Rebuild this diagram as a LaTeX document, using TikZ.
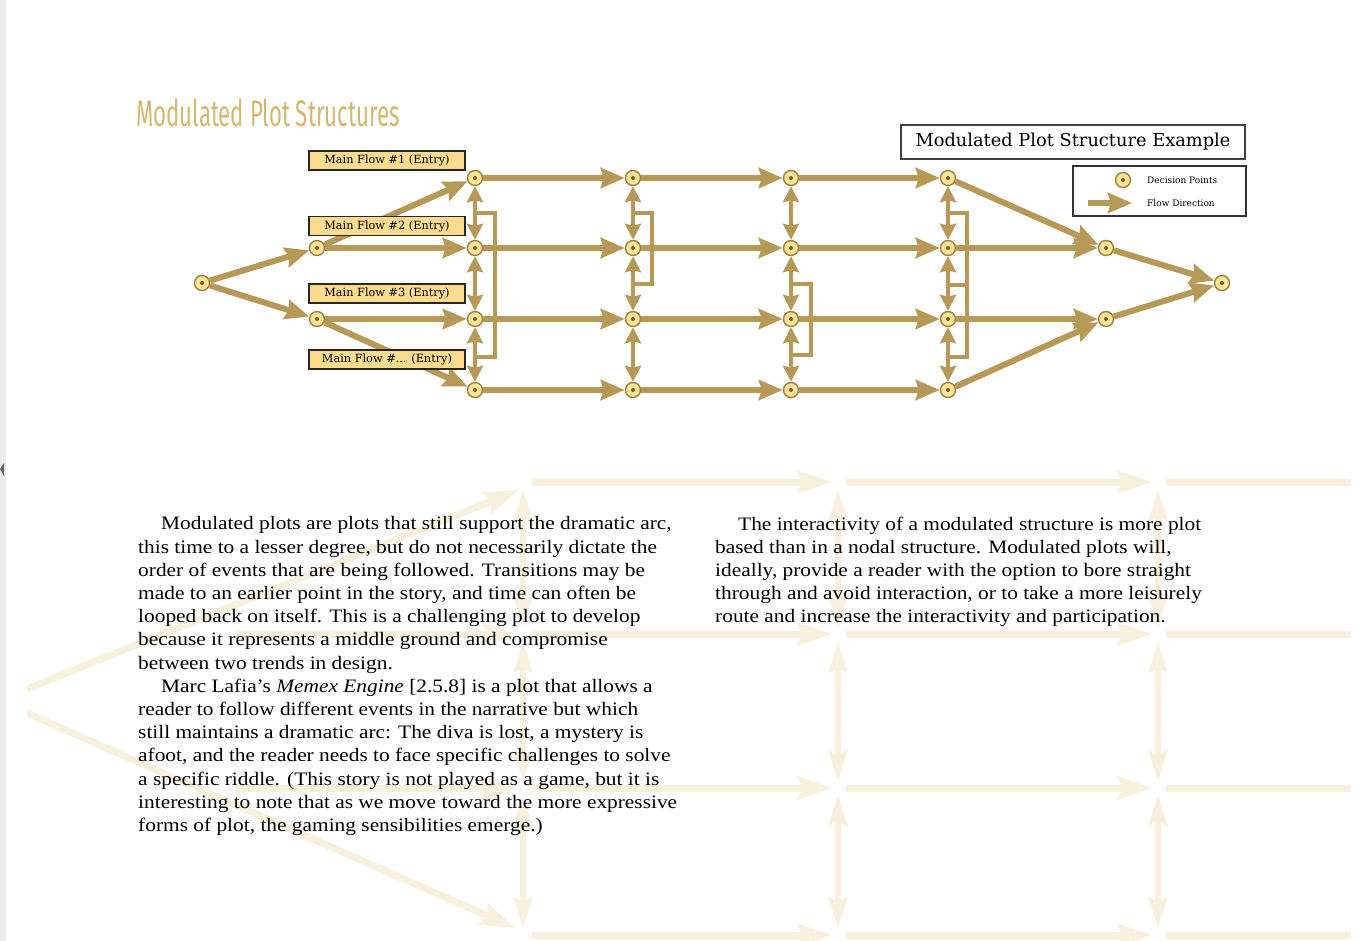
\documentclass[tikz,border=0pt]{standalone}
\usepackage{fontspec}
\setmainfont[FakeStretch=1.125]{Liberation Serif}
\newfontfamily\labelfont{DejaVu Serif}
\newfontfamily\headfont[FakeStretch=0.6]{Fira Sans}
\usetikzlibrary{arrows.meta, positioning}

\definecolor{flowgold}{RGB}{184,152,86}
\definecolor{ringgold}{RGB}{160,128,62}
\definecolor{pointfill}{RGB}{252,226,150}
\definecolor{dotbrown}{RGB}{120,90,40}
\definecolor{labelfill}{RGB}{252,219,142}
\definecolor{titlegold}{RGB}{214,183,110}
\definecolor{wmark}{RGB}{249,239,221}
\definecolor{edgegray}{RGB}{236,236,236}

\tikzset{
  decision/.style={circle, draw=ringgold, line width=1.4pt, fill=pointfill,
    minimum size=15pt, inner sep=0pt,
    path picture={\fill[dotbrown] (path picture bounding box.center) circle (2pt);}},
  flow/.style={draw=flowgold, line width=6pt, -{Stealth[length=24pt, width=20pt, inset=3pt]}},
  swap/.style={draw=flowgold, line width=4.5pt,
    {Stealth[length=16pt, width=16pt, inset=2pt]}-{Stealth[length=16pt, width=16pt, inset=2pt]}},
  loopbar/.style={draw=flowgold, line width=4.5pt},
  entry/.style={draw=black!85, line width=1.3pt, fill=labelfill,
    font=\labelfont\fontsize{11.3}{13}\selectfont,
    minimum width=156pt, minimum height=19pt, inner sep=0pt},
  ghost/.style={draw=wmark, line width=7pt, -{Stealth[length=34pt, width=22pt, inset=4pt]}},
  ghostswap/.style={draw=wmark, line width=6pt,
    {Stealth[length=30pt, width=18pt, inset=4pt]}-{Stealth[length=30pt, width=18pt, inset=4pt]}},
  bodytext/.style={anchor=north west, inner sep=0pt, align=left,
    font=\fontsize{19}{23.2}\selectfont},
  legendtext/.style={anchor=west, inner sep=0pt, font=\labelfont\fontsize{9}{10}\selectfont},
}

\begin{document}
\begin{tikzpicture}[x=1pt, y=-1pt]
  \fill[white] (0,0) rectangle (1369,941);
  \useasboundingbox (0,0) rectangle (1369,941);

  % page edge
  \fill[edgegray] (0,0) rectangle (6,941);
  \fill[black!60] (0,469) -- (4,463) -- (4,476) -- cycle;

  % faint backdrop behind the text
  \begin{scope}
    \clip (27,440) rectangle (1351,941);
    \draw[ghost] (27,689) -- (519,490);
    \draw[ghost] (27,713) -- (515,928);
    \foreach \y in {634,788}
      \draw[ghost] (235,\y) -- (517,\y);
    \foreach \y in {482,634,788,935} {
      \draw[ghost] (532,\y) -- (832,\y);
      \draw[ghost] (846,\y) -- (1152,\y);
      \draw[wmark, line width=7pt] (1166,\y) -- (1351,\y);
    }
    \foreach \x in {523,838,1158} {
      \draw[ghostswap] (\x,490) -- (\x,627);
      \draw[ghostswap] (\x,642) -- (\x,781);
      \draw[ghostswap] (\x,795) -- (\x,928);
    }
  \end{scope}

  % heading
  \node[anchor=base west, inner sep=0pt, text=titlegold,
        font=\headfont\fontsize{37}{40}\selectfont] (heading) at (136,127) {Modulated Plot Structures};

  % decision points
  \node[decision] (start) at (202,283) {};
  \node[decision] (up) at (317,248) {};
  \node[decision] (low) at (317,319) {};
  \foreach \c/\x in {1/475, 2/633, 3/791, 4/948}
    \foreach \r/\y in {1/178, 2/248, 3/319, 4/390}
      \node[decision] (c\c r\r) at (\x,\y) {};
  \node[decision] (mergeup) at (1106,248) {};
  \node[decision] (mergelow) at (1106,319) {};
  \node[decision] (finish) at (1222,283) {};

  % entry split
  \draw[flow] (start) -- (up);
  \draw[flow] (start) -- (low);
  \draw[flow] (up) -- (c1r1);
  \draw[flow] (up) -- (c1r2);
  \draw[flow] (low) -- (c1r3);
  \draw[flow] (low) -- (c1r4);

  % main flows
  \foreach \r in {1,...,4} {
    \draw[flow] (c1r\r) -- (c2r\r);
    \draw[flow] (c2r\r) -- (c3r\r);
    \draw[flow] (c3r\r) -- (c4r\r);
  }

  % switching between flows
  \foreach \c in {1,...,4} {
    \draw[swap] (c\c r1) -- (c\c r2);
    \draw[swap] (c\c r2) -- (c\c r3);
    \draw[swap] (c\c r3) -- (c\c r4);
  }

  % loop backs
  \draw[loopbar] (477,213) -- (495,213) -- (495,357) -- (477,357);
  \draw[loopbar] (635,213) -- (652,213) -- (652,284) -- (635,284);
  \draw[loopbar] (793,284) -- (811,284) -- (811,355) -- (793,355);
  \draw[loopbar] (950,213) -- (967,213) -- (967,357) -- (950,357);
  \draw[loopbar] (950,285) -- (967,285);

  % merge
  \draw[flow] (c4r1) -- (mergeup);
  \draw[flow] (c4r2) -- (mergeup);
  \draw[flow] (c4r3) -- (mergelow);
  \draw[flow] (c4r4) -- (mergelow);
  \draw[flow] (mergeup) -- (finish);
  \draw[flow] (mergelow) -- (finish);

  % entry labels
  \node[entry] (entry1) at (387,160.5) {Main Flow \#1 (Entry)};
  \node[entry] (entry2) at (387,226) {Main Flow \#2 (Entry)};
  \node[entry] (entry3) at (387,293.5) {Main Flow \#3 (Entry)};
  \node[entry] (entry4) at (387,359.5) {Main Flow \#... (Entry)};

  % caption box and legend
  \node[draw=black!75, line width=1.5pt, fill=white, minimum width=344pt, minimum height=34pt,
        inner sep=0pt, font=\labelfont\fontsize{17.8}{19}\selectfont] (caption) at (1073,142)
        {Modulated Plot Structure Example};
  \node[draw=black!80, line width=1.2pt, fill=white, minimum width=173pt, minimum height=50pt,
        inner sep=0pt] (legend) at (1159.5,191) {};
  \node[decision] (legdot) at (1123,180) {};
  \node[legendtext] (legdottext) at (1147,180) {Decision Points};
  \coordinate (legtail) at (1088,203);
  \coordinate (leghead) at (1132,203);
  \draw[flow] (legtail) -- (leghead);
  \node[legendtext] (legflowtext) at (1147,203) {Flow Direction};

  % body text
  \node[bodytext] (leftcol) at (138,516.5) {%
    \hspace*{23pt}Modulated plots are plots that still support the dramatic arc,\\
    this time to a lesser degree, but do not necessarily dictate the\\
    order of events that are being followed. Transitions may be\\
    made to an earlier point in the story, and time can often be\\
    looped back on itself. This is a challenging plot to develop\\
    because it represents a middle ground and compromise\\
    between two trends in design.\\
    \hspace*{23pt}Marc Lafia’s \textit{Memex Engine} [2.5.8] is a plot that allows a\\
    reader to follow different events in the narrative but which\\
    still maintains a dramatic arc: The diva is lost, a mystery is\\
    afoot, and the reader needs to face specific challenges to solve\\
    a specific riddle. (This story is not played as a game, but it is\\
    interesting to note that as we move toward the more expressive\\
    forms of plot, the gaming sensibilities emerge.)};
  \node[bodytext] (rightcol) at (715,516.5) {%
    \hspace*{23pt}The interactivity of a modulated structure is more plot\\
    based than in a nodal structure. Modulated plots will,\\
    ideally, provide a reader with the option to bore straight\\
    through and avoid interaction, or to take a more leisurely\\
    route and increase the interactivity and participation.};
\end{tikzpicture}
\end{document}
